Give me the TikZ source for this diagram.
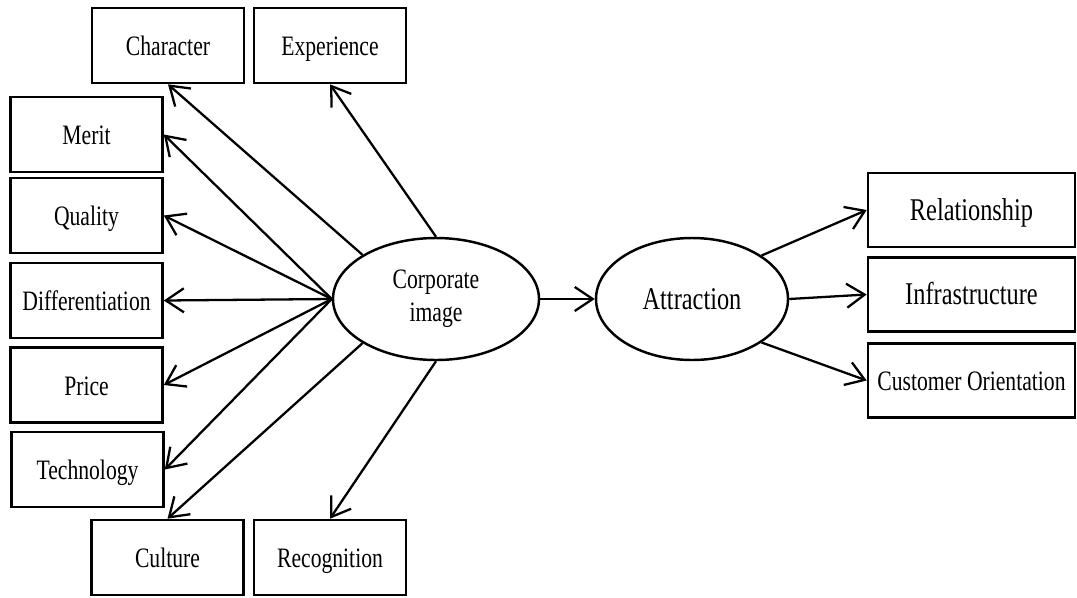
\documentclass[tikz,border=0pt]{standalone}
\usepackage{fontspec}
\setmainfont[FakeStretch=0.77]{Liberation Serif}
\usepackage{tikz}
\usetikzlibrary{positioning, shapes.geometric, arrows.meta}

\begin{document}
\begin{tikzpicture}[
		box/.style={rectangle,draw,line width=1.5pt,minimum width=3.04cm,minimum height=1.5cm,inner sep=0pt,text height=12.5pt,text depth=1pt,font=\fontsize{16}{18}\selectfont},
		widebox/.style={box,minimum width=4.14cm,minimum height=1.48cm},
		latent/.style={ellipse,draw,line width=1.4pt,minimum width=4.12cm,minimum height=2.44cm,inner sep=0pt,align=center,font=\fontsize{16}{19}\selectfont},
		big/.style={font=\fontsize{18}{20}\selectfont},
		>={Straight Barb[length=3.6mm,width=4.8mm,line width=1.3pt]},
		every path/.style={line width=1.3pt}]
		\useasboundingbox (0,0) rectangle (21.54,-11.94);

		\node[box] (char)  at (3.36,-0.91)  {Character};
		\node[box] (exp)   at (6.6,-0.91)   {Experience};
		\node[box] (merit) at (1.73,-2.69)  {Merit};
		\node[box] (qual)  at (1.73,-4.31)  {Quality};
		\node[box] (diff)  at (1.73,-6.01)  {Differentiation};
		\node[box] (price) at (1.73,-7.7)   {Price};
		\node[box] (tech)  at (1.75,-9.39)  {Technology};
		\node[box] (cult)  at (3.35,-11.15) {Culture};
		\node[box] (recog) at (6.6,-11.15)  {Recognition};

		\node[latent] (cimg) at (8.72,-5.98)  {Corporate\\image};
		\node[latent,big,minimum width=3.84cm] (attr) at (13.84,-5.98) {Attraction};

		\node[widebox,big] (rel)   at (19.43,-4.2)  {Relationship};
		\node[widebox,big] (infra) at (19.43,-5.89) {Infrastructure};
		\node[widebox] (cust)  at (19.43,-7.61) {Customer Orientation};

		% corporate image dimensions
		\draw[->] (cimg.149) -- (char.south);
		\draw[->] (cimg.north) -- (exp.south);
		\draw[->] (cimg.west) -- (merit.east);
		\draw[->] (cimg.west) -- (qual.east);
		\draw[->] (cimg.west) -- (diff.east);
		\draw[->] (cimg.west) -- (price.east);
		\draw[->] (cimg.west) -- (tech.east);
		\draw[->] (cimg.211) -- (cult.north);
		\draw[->] (cimg.south) -- (recog.north);

		\draw[->] (cimg.east) -- (attr.west);

		% attraction dimensions
		\draw[->] (attr.32) -- (rel.west);
		\draw[->] (attr.east) -- (infra.west);
		\draw[->] (attr.-32) -- (cust.west);

\end{tikzpicture}
\end{document}
